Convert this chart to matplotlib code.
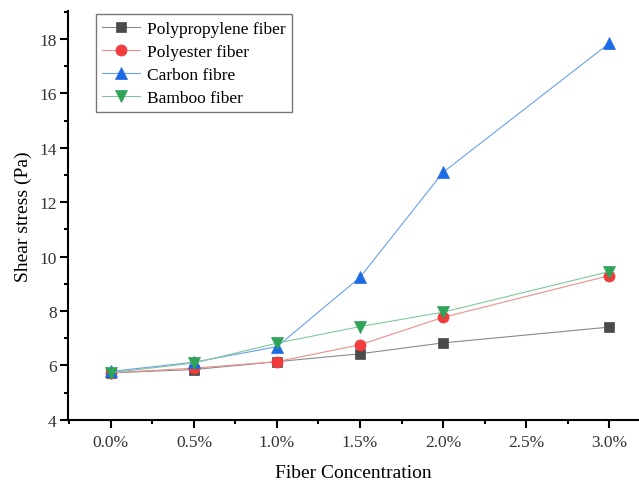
import matplotlib
matplotlib.use("Agg")
import matplotlib.pyplot as plt
from matplotlib.ticker import MultipleLocator

concentration = [0.0, 0.5, 1.0, 1.5, 2.0, 3.0]
tick_positions = [0.0, 0.5, 1.0, 1.5, 2.0, 2.5, 3.0]
tick_labels = ["0.0%", "0.5%", "1.0%", "1.5%", "2.0%", "2.5%", "3.0%"]

polypropylene = [5.73, 5.85, 6.14, 6.43, 6.83, 7.41]
polyester = [5.73, 5.90, 6.14, 6.76, 7.77, 9.30]
carbon = [5.78, 6.12, 6.69, 9.24, 13.10, 17.84]
bamboo = [5.73, 6.09, 6.82, 7.43, 7.96, 9.45]

series_names = ["Polypropylene fiber", "Polyester fiber", "Carbon fibre", "Bamboo fiber"]

plt.rcParams['font.family'] = ['Liberation Serif', 'DejaVu Serif']

fig = plt.figure(figsize=(6.39, 4.81), dpi=100)
ax = fig.add_axes([0.106, 0.125, 0.894, 0.85])

styles = [
    (polypropylene, "#4a4a4a", "#8a8a8a", "s", 7),
    (polyester, "#f03c3c", "#f28c8c", "o", 8),
    (carbon, "#1c6ae4", "#6a9ff0", "^", 8.5),
    (bamboo, "#2fa35a", "#80c89a", "v", 8.5),
]
for (vals, mc, lc, mk, ms), name in zip(styles, series_names):
    ax.plot(concentration, vals, color=lc, lw=0.8, marker=mk, ms=ms,
            markerfacecolor=mc, markeredgecolor=mc, markeredgewidth=0.5, label=name)

ax.set_xlim(-0.26, 3.18)
ax.set_ylim(4, 19.03)
ax.set_xticks(tick_positions)
ax.set_xticklabels(tick_labels)
ax.xaxis.set_minor_locator(MultipleLocator(0.25))
ax.yaxis.set_major_locator(MultipleLocator(2))
ax.yaxis.set_minor_locator(MultipleLocator(1))

for s in ["top", "right"]:
    ax.spines[s].set_visible(False)
for s in ["left", "bottom"]:
    ax.spines[s].set_linewidth(1.5)

ax.tick_params(which="major", direction="out", length=6, width=1.5, labelsize=12.5, colors="black")
ax.tick_params(which="minor", direction="out", length=3, width=1.5)
ax.tick_params(axis="x", pad=4)
ax.tick_params(axis="y", pad=2)
for lbl in ax.get_xticklabels() + ax.get_yticklabels():
    lbl.set_color("#333333")

ax.set_xlabel("Fiber Concentration", fontsize=14, labelpad=10)
ax.set_ylabel("Shear stress (Pa)", fontsize=14, labelpad=5)

leg = ax.legend(loc="upper left", bbox_to_anchor=(0.043, 1.0), fontsize=12.5,
                frameon=True, fancybox=False, edgecolor="#555555",
                handlelength=2.2, handletextpad=0.4, borderpad=0.35,
                labelspacing=0.4, borderaxespad=0.2)
leg.get_frame().set_linewidth(1.0)

fig.savefig("out.png", dpi=100)
